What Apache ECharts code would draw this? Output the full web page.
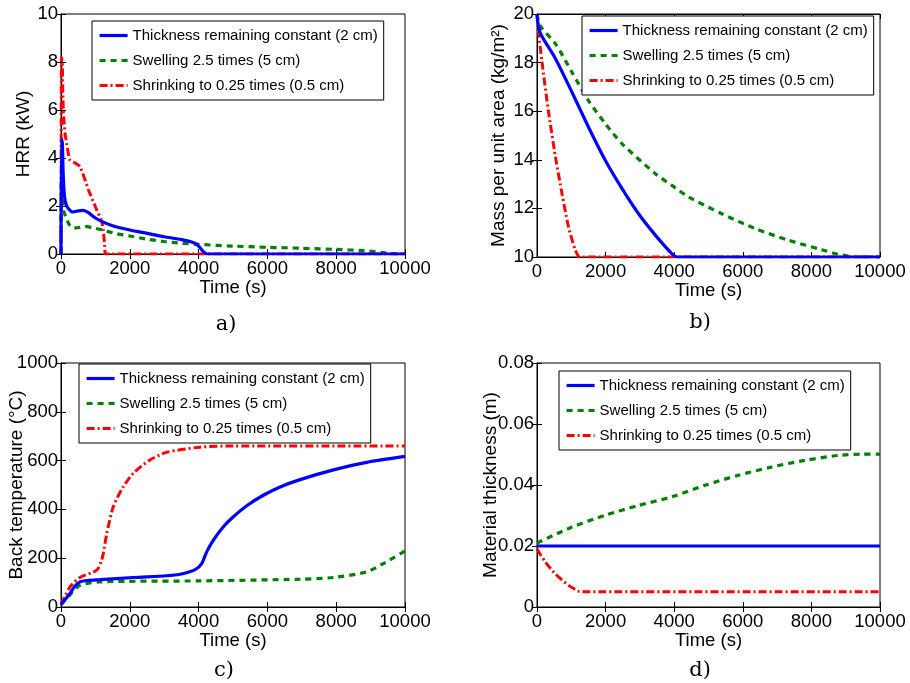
<!DOCTYPE html>
<html>
<head>
<meta charset="utf-8">
<script src="https://cdn.jsdelivr.net/npm/echarts@6/dist/echarts.min.js"></script>
<style>
  html, body { margin: 0; padding: 0; background: #fff; }
  #chart { width: 910px; height: 683px; }
</style>
</head>
<body>
<div id="chart"></div>
<script>
// 四个子图：HRR、单位面积质量、背面温度、材料厚度
const chart = echarts.init(document.getElementById('chart'));

const names = [
  'Thickness remaining constant (2 cm)',
  'Swelling 2.5 times (5 cm)',
  'Shrinking to 0.25 times (0.5 cm)'
];

// a) HRR (kW) vs time (s)
const hrrConstant = [[0, 0], [15, 4.8], [40, 4.6], [60, 3.5], [90, 2.6], [130, 2.15], [200, 1.92], [350, 1.75],
  [500, 1.8], [650, 1.82], [800, 1.72], [1000, 1.5], [1200, 1.35], [1500, 1.18], [2000, 1.0], [2500, 0.86],
  [3000, 0.72], [3500, 0.6], [3800, 0.5], [3950, 0.4], [4050, 0.25], [4150, 0.08], [4250, 0], [10000, 0]];
const hrrSwelling = [[0, 0], [15, 3.2], [40, 2.4], [80, 1.8], [150, 1.5], [250, 1.2], [350, 1.08], [500, 1.1],
  [700, 1.15], [900, 1.1], [1200, 1.0], [1600, 0.85], [2000, 0.75], [2500, 0.62], [3000, 0.52], [3500, 0.45],
  [4000, 0.4], [5000, 0.33], [6000, 0.28], [7000, 0.24], [8000, 0.19], [8800, 0.14], [9300, 0.07], [9600, 0.02], [10000, 0]];
const hrrShrinking = [[0, 0], [15, 8.2], [35, 8.0], [67, 6.0], [120, 5.0], [165, 4.6], [262, 3.9], [400, 3.8],
  [550, 3.64], [800, 2.67], [1000, 1.97], [1180, 1.35], [1230, 1.0], [1270, 0.3], [1300, 0], [10000, 0]];

// b) mass per unit area (kg/m2)
const massConstant = [[0, 20], [20, 19.7], [100, 19.2], [540, 18.16], [1020, 16.78], [1500, 15.35], [1990, 13.98],
  [2480, 12.81], [2960, 11.78], [3450, 10.9], [3930, 10.14], [4100, 10], [10000, 10]];
const massSwelling = [[0, 20], [100, 19.5], [540, 18.77], [1020, 17.6], [1500, 16.44], [1990, 15.49], [2480, 14.66],
  [3450, 13.43], [3930, 12.95], [4420, 12.47], [5390, 11.78], [6360, 11.17], [7330, 10.69], [8300, 10.3],
  [8790, 10.11], [9300, 10], [10000, 10]];
const massShrinking = [[0, 20], [50, 19.18], [140, 18.09], [330, 16.03], [540, 14.11], [730, 12.6], [920, 11.23],
  [1120, 10.28], [1250, 10], [10000, 10]];

// c) back temperature (°C)
const tempConstant = [[0, 10], [260, 55], [400, 85], [550, 103], [800, 109], [1130, 112], [2100, 121], [3070, 128],
  [3460, 134], [3900, 153], [4090, 178], [4235, 226], [4430, 274], [4720, 329], [5010, 370], [5400, 415],
  [5880, 458], [6370, 492], [6950, 522], [7920, 562], [8890, 593], [10000, 617]];
const tempSwelling = [[0, 10], [260, 50], [550, 89], [1130, 103], [4040, 107], [6950, 114], [7920, 121],
  [8890, 144], [9370, 178], [10000, 230]];
const tempShrinking = [[0, 10], [260, 82], [550, 121], [1040, 151], [1180, 192], [1230, 219], [1330, 301],
  [1520, 411], [1810, 493], [2100, 548], [2590, 603], [3070, 634], [4040, 655], [5000, 660], [10000, 660]];

// d) material thickness (m)
const thickConstant = [[0, 0.02], [10000, 0.02]];
const thickSwelling = [[0, 0.021], [1020, 0.0262], [1990, 0.0301], [2960, 0.0333], [3930, 0.0361], [4900, 0.0399],
  [5870, 0.0432], [6840, 0.0459], [7820, 0.0481], [8790, 0.0497], [9500, 0.0501], [10000, 0.0501]];
const thickShrinking = [[0, 0.019], [240, 0.0148], [530, 0.0109], [920, 0.0071], [1210, 0.0052], [1300, 0.005], [10000, 0.005]];

const yRanges = [[0, 10, 2], [10, 20, 2], [0, 1000, 200], [0, 0.08, 0.02]];
const yNames = ['HRR (kW)', 'Mass per unit area (kg/m²)', 'Back temperature (°C)', 'Material thickness (m)'];
const panelData = [
  [hrrConstant, hrrSwelling, hrrShrinking],
  [massConstant, massSwelling, massShrinking],
  [tempConstant, tempSwelling, tempShrinking],
  [thickConstant, thickSwelling, thickShrinking]
];

const font = 'Liberation Sans';
const grids = [
  { left: 61, top: 14, width: 344, height: 240 },
  { left: 537, top: 14, width: 343, height: 243 },
  { left: 61, top: 363, width: 344, height: 244 },
  { left: 537, top: 363, width: 343, height: 244 }
];
const yNameGaps = [28, 29, 35, 37];
const legendPos = [[92, 21], [582, 16], [79, 364], [559, 371]];
const subLabels = [['a)', 226, 325], ['b)', 700, 323], ['c)', 224, 671], ['d)', 700, 671]];

const lineStyles = [
  { color: '#0000ff', width: 3.2, type: 'solid' },
  { color: '#008000', width: 3.2, type: [6, 5] },
  { color: '#ff0000', width: 3, type: [8, 3, 2, 3] }
];

const plain = v => String(v);

const xAxis = [];
const yAxis = [];
const series = [];
const legend = [];

grids.forEach((g, i) => {
  const tick = { show: true, inside: true, length: 5, lineStyle: { color: '#000' } };
  const line = { show: true, lineStyle: { color: '#000', width: 1 } };
  xAxis.push({
    type: 'value', gridIndex: i, min: 0, max: 10000, interval: 2000,
    name: 'Time (s)', nameLocation: 'middle', nameGap: 24, nameMoveOverlap: false,
    nameTextStyle: { fontFamily: font, fontSize: 18.5, color: '#000' },
    axisLine: line, axisTick: tick, splitLine: { show: false },
    axisLabel: { fontFamily: font, fontSize: 18.5, color: '#000', margin: 5, formatter: plain }
  });
  xAxis.push({
    type: 'value', gridIndex: i, position: 'top', min: 0, max: 10000, interval: 2000,
    axisLine: line, axisTick: tick, splitLine: { show: false }, axisLabel: { show: false }
  });
  const r = yRanges[i];
  yAxis.push({
    type: 'value', gridIndex: i, min: r[0], max: r[1], interval: r[2],
    name: yNames[i], nameLocation: 'middle', nameGap: yNameGaps[i], nameMoveOverlap: false,
    nameTextStyle: { fontFamily: font, fontSize: 19, color: '#000' },
    axisLine: line, axisTick: tick, splitLine: { show: false },
    axisLabel: { fontFamily: font, fontSize: 18.5, color: '#000', margin: 3, formatter: plain }
  });
  yAxis.push({
    type: 'value', gridIndex: i, position: 'right', min: r[0], max: r[1], interval: r[2],
    axisLine: line, axisTick: tick, splitLine: { show: false }, axisLabel: { show: false }
  });
  panelData[i].forEach((d, k) => {
    series.push({
      type: 'line', name: names[k], data: d,
      xAxisIndex: 2 * i, yAxisIndex: 2 * i,
      showSymbol: false, symbol: 'none',
      smooth: 0.25,
      lineStyle: lineStyles[k], itemStyle: { color: lineStyles[k].color },
      z: k === 0 ? 4 : 3
    });
  });
  legend.push({
    data: names, orient: 'vertical', left: legendPos[i][0], top: legendPos[i][1],
    backgroundColor: '#fff', borderColor: '#000', borderWidth: 1,
    padding: [7, 6, 7, 6], itemWidth: 28, itemHeight: 14, itemGap: 10,
    itemStyle: { opacity: 0 },
    lineStyle: { width: 3.2 },
    textStyle: { fontFamily: font, fontSize: 15, color: '#000' }
  });
});

const option = {
  backgroundColor: '#fff',
  animation: false,
  grid: grids.map(g => Object.assign({ show: true, borderColor: '#000', borderWidth: 1, outerBoundsMode: 'none' }, g)),
  xAxis: xAxis,
  yAxis: yAxis,
  legend: legend,
  series: series,
  graphic: subLabels.map(s => ({
    type: 'text', x: s[1], y: s[2],
    style: { text: s[0], fontFamily: 'DejaVu Serif', fontSize: 21, fill: '#000', align: 'center', verticalAlign: 'middle' }
  }))
};
chart.setOption(option);
</script>
</body>
</html>
